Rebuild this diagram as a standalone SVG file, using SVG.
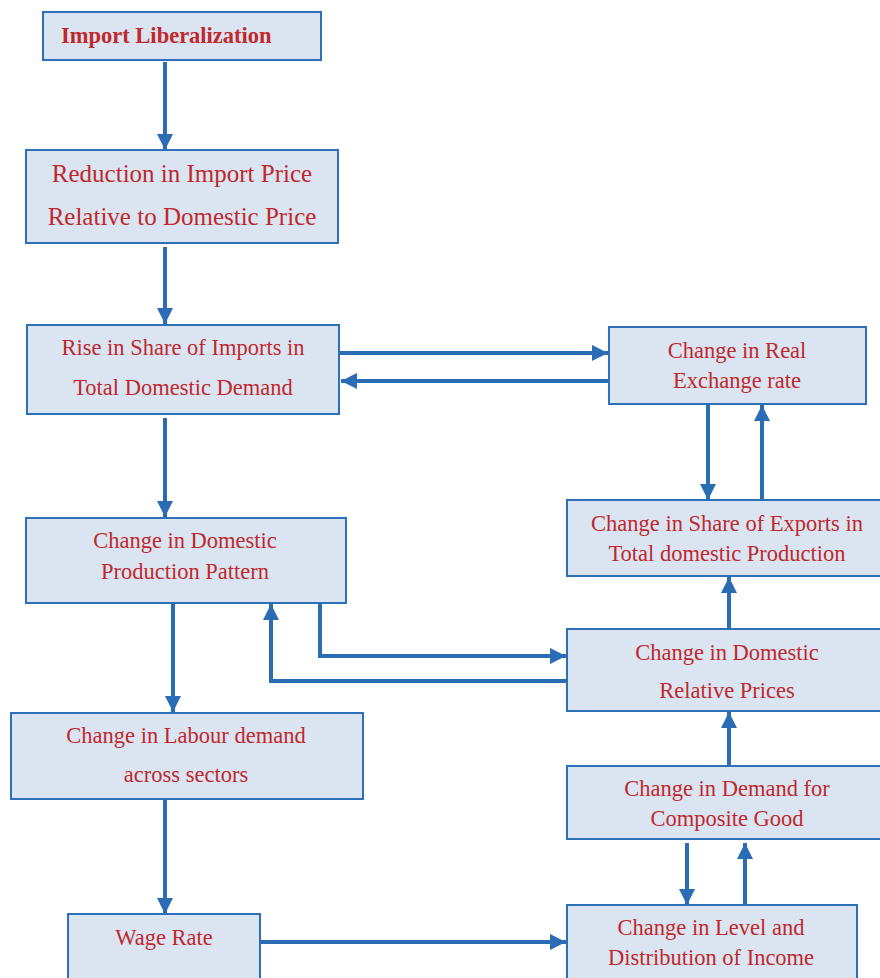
<svg xmlns="http://www.w3.org/2000/svg" width="880" height="978" viewBox="0 0 880 978">
<style>
.box{fill:#DBE5F1;stroke:#2E70B8;stroke-width:2}
.t{font-family:"Liberation Serif","Times New Roman",serif;font-size:22.5px;fill:#C0282D;text-anchor:middle}
.big{font-size:25px}
.b{font-weight:bold;text-anchor:start}
.c{fill:none;stroke:#2A6DB5;stroke-width:4}
</style>
<defs>
<marker id="ah" viewBox="0 0 10 10" refX="10" refY="5" markerWidth="4" markerHeight="4" markerUnits="strokeWidth" orient="auto">
<path d="M0,0 L10,5 L0,10 Z" fill="#2A6DB5"/>
</marker>
</defs>
<rect width="880" height="978" fill="#fff"/>
<g id="connectors">
<path class="c" d="M165,62 V150" marker-end="url(#ah)"/>
<path class="c" d="M165,247 V324" marker-end="url(#ah)"/>
<path class="c" d="M340,353 H608" marker-end="url(#ah)"/>
<path class="c" d="M609,381 H341" marker-end="url(#ah)"/>
<path class="c" d="M708,404 V500" marker-end="url(#ah)"/>
<path class="c" d="M762,500 V405" marker-end="url(#ah)"/>
<path class="c" d="M165,418 V517" marker-end="url(#ah)"/>
<path class="c" d="M729,629 V577" marker-end="url(#ah)"/>
<path class="c" d="M320,603 V656 H566" marker-end="url(#ah)"/>
<path class="c" d="M567,681 H271 V604" marker-end="url(#ah)"/>
<path class="c" d="M173,603 V712" marker-end="url(#ah)"/>
<path class="c" d="M729,766 V712" marker-end="url(#ah)"/>
<path class="c" d="M687,843 V905" marker-end="url(#ah)"/>
<path class="c" d="M745,905 V843" marker-end="url(#ah)"/>
<path class="c" d="M165,800 V914" marker-end="url(#ah)"/>
<path class="c" d="M260,942 H566" marker-end="url(#ah)"/>
</g>
<g id="n1"><rect class="box" x="43" y="12" width="278" height="48"/><text class="t b" x="61" y="43">Import Liberalization</text></g>
<g id="n2"><rect class="box" x="26" y="150" width="312" height="93"/><text class="t big" x="182" y="182">Reduction in Import Price</text><text class="t big" x="182" y="225">Relative to Domestic Price</text></g>
<g id="n3"><rect class="box" x="27" y="325" width="312" height="89"/><text class="t" x="183" y="355">Rise in Share of Imports in</text><text class="t" x="183" y="395">Total Domestic Demand</text></g>
<g id="n4"><rect class="box" x="609" y="327" width="257" height="77"/><text class="t" x="737" y="358">Change in Real</text><text class="t" x="737" y="388">Exchange rate</text></g>
<g id="n5"><rect class="box" x="567" y="500" width="320" height="76"/><text class="t" x="727" y="531">Change in Share of Exports in</text><text class="t" x="727" y="561">Total domestic Production</text></g>
<g id="n6"><rect class="box" x="26" y="518" width="320" height="85"/><text class="t" x="185" y="548">Change in Domestic</text><text class="t" x="185" y="579">Production Pattern</text></g>
<g id="n7"><rect class="box" x="567" y="629" width="320" height="82"/><text class="t" x="727" y="660">Change in Domestic</text><text class="t" x="727" y="698">Relative Prices</text></g>
<g id="n8"><rect class="box" x="11" y="713" width="352" height="86"/><text class="t" x="186" y="743">Change in Labour demand</text><text class="t" x="186" y="782">across sectors</text></g>
<g id="n9"><rect class="box" x="567" y="766" width="320" height="73"/><text class="t" x="727" y="796">Change in Demand for</text><text class="t" x="727" y="826">Composite Good</text></g>
<g id="n10"><rect class="box" x="68" y="914" width="192" height="70"/><text class="t" x="164" y="945">Wage Rate</text></g>
<g id="n11"><rect class="box" x="567" y="905" width="290" height="80"/><text class="t" x="711" y="935">Change in Level and</text><text class="t" x="711" y="965">Distribution of Income</text></g>
</svg>
